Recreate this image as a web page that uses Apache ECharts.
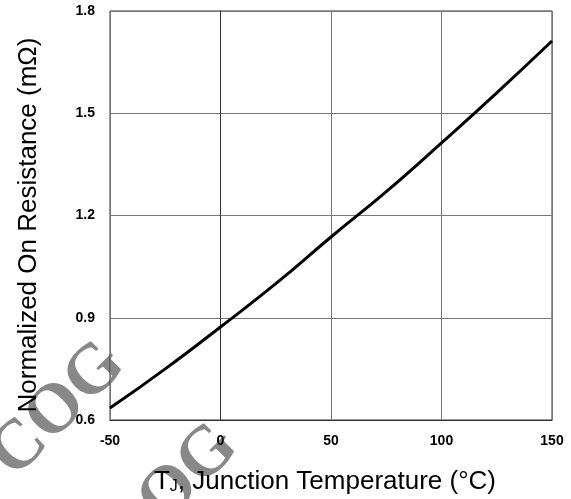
<!DOCTYPE html>
<html>
<head>
<meta charset="utf-8">
<script src="https://cdn.jsdelivr.net/npm/echarts@6/dist/echarts.min.js"></script>
<style>
  html, body { margin: 0; padding: 0; background: #fff; }
  #chart { width: 571px; height: 499px; }
</style>
</head>
<body>
<div id="chart"></div>
<script>
// junction temperature (°C) and normalized on-resistance
var temps = [-50, -25, 0, 25, 50, 75, 100, 125, 150];
var resistance = [0.635, 0.75, 0.873, 1.0, 1.137, 1.27, 1.413, 1.56, 1.712];

var chart = echarts.init(document.getElementById('chart'));

var option = {
    animation: false,
    grid: {
        left: 110, right: 19, top: 11, bottom: 79,
        show: true, borderColor: '#333', borderWidth: 1
    },
    xAxis: {
        type: 'value',
        min: -50, max: 150, interval: 50,
        axisLine: { show: true, lineStyle: { color: '#333', width: 1 } },
        axisTick: { show: false },
        splitLine: { show: true, lineStyle: { color: '#777', width: 1 } },
        axisLabel: {
            margin: 14,
            color: '#000',
            fontFamily: 'Liberation Sans',
            fontWeight: 'bold',
            fontSize: 14
        }
    },
    yAxis: {
        type: 'value',
        min: 0.6, max: 1.8, interval: 0.3,
        axisLine: { show: true, lineStyle: { color: '#333', width: 1 } },
        axisTick: { show: false },
        splitLine: { show: true, lineStyle: { color: '#777', width: 1 } },
        axisLabel: {
            margin: 15,
            color: '#000',
            fontFamily: 'Liberation Sans',
            fontWeight: 'bold',
            fontSize: 14,
            formatter: function (v) { return v.toFixed(1); }
        }
    },
    series: [{
        type: 'line',
        data: temps.map(function (t, i) { return [t, resistance[i]]; }),
        smooth: true,
        showSymbol: false,
        z: 5,
        lineStyle: { color: '#000', width: 3 }
    }],
    graphic: [
        // watermark
        {
            type: 'text', x: 58, y: 410, rotation: Math.PI / 4, z: -1,
            style: {
                text: 'COG', x: 0, y: 0, align: 'center', verticalAlign: 'middle',
                font: 'bold 70px "Liberation Serif"', fill: '#888'
            }
        },
        {
            type: 'text', x: 171, y: 492, rotation: Math.PI / 4, z: -1,
            style: {
                text: 'COG', x: 0, y: 0, align: 'center', verticalAlign: 'middle',
                font: 'bold 70px "Liberation Serif"', fill: '#888'
            }
        },
        // y axis title
        {
            type: 'text', x: 29, y: 225, rotation: Math.PI / 2, z: 110,
            style: {
                text: 'Normalized On Resistance (mΩ)', x: 0, y: 0,
                align: 'center', verticalAlign: 'middle',
                font: '26px "Liberation Sans"', fill: '#000'
            }
        },
        // x axis title
        {
            type: 'text', x: 325, y: 482, z: 110,
            style: {
                text: '{t|T}{s|J}{t|, Junction Temperature (°C)}', x: 0, y: 0,
                align: 'center', verticalAlign: 'middle',
                rich: {
                    t: { fontSize: 26, fontFamily: 'Liberation Sans', fill: '#000', color: '#000' },
                    s: { fontSize: 16, fontFamily: 'Liberation Sans', fill: '#000', color: '#000', padding: [10, 0, 0, 0] }
                }
            }
        }
    ]
};

chart.setOption(option);
</script>
</body>
</html>
